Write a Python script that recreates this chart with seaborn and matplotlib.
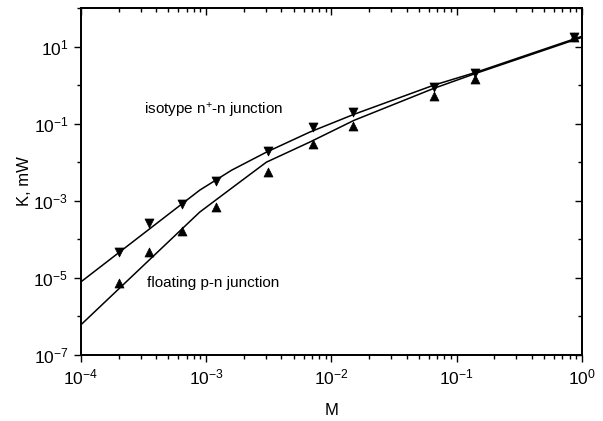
import numpy as np
import pandas as pd
import matplotlib
matplotlib.use("Agg")
import matplotlib.pyplot as plt
import seaborn as sns
from matplotlib.ticker import FixedLocator, LogLocator, NullFormatter

# measured points (down triangles: isotype n+-n, up triangles: floating p-n)
m_points = [2.0e-4, 3.5e-4, 6.4e-4, 1.2e-3, 3.1e-3, 7.2e-3, 1.5e-2, 6.6e-2, 1.4e-1, 0.87]
k_isotype = [4.7e-5, 2.6e-4, 8.1e-4, 3.2e-3, 2.0e-2, 8.1e-2, 0.20, 0.88, 2.0, 18.0]
k_floating = [7.4e-6, 4.7e-5, 1.6e-4, 6.8e-4, 5.5e-3, 2.95e-2, 8.5e-2, 0.51, 1.4, 18.0]

# calculated curves
m_curve = [1e-4, 8.9e-4, 1.6e-3, 3.03e-3, 6.7e-3, 1.52e-2, 6.6e-2, 0.143, 1.0]
k_curve_isotype = [7.8e-6, 1.88e-3, 6.2e-3, 1.82e-2, 6.0e-2, 0.175, 1.0, 2.15, 18.4]
k_curve_floating = [6.0e-7, 5.07e-4, 2.12e-3, 1.0e-2, 3.3e-2, 0.122, 0.826, 2.02, 17.3]

x_major = [1e-4, 1e-3, 1e-2, 1e-1, 1e0]
y_major = [1e-7, 1e-5, 1e-3, 1e-1, 1e1]
y_minor = [1e-6, 1e-4, 1e-2, 1e0, 1e2]

sns.set_style("ticks", {"axes.edgecolor": "black", "text.color": "black",
                        "axes.labelcolor": "black", "xtick.color": "black",
                        "ytick.color": "black"})
plt.rcParams["font.family"] = ["Liberation Sans", "DejaVu Sans"]
plt.rcParams["mathtext.fontset"] = "custom"
plt.rcParams["mathtext.rm"] = "Liberation Sans"
plt.rcParams["mathtext.it"] = "Liberation Sans:italic"
plt.rcParams["mathtext.default"] = "regular"

pts = pd.DataFrame({"M": m_points, "iso": k_isotype, "flo": k_floating})
curves = pd.DataFrame({"M": m_curve, "iso": k_curve_isotype, "flo": k_curve_floating})

fig = plt.figure(figsize=(6.03, 4.21), dpi=100)
ax = fig.add_axes([0.134, 0.157, 0.831, 0.824])

sns.lineplot(data=curves, x="M", y="iso", ax=ax, color="black", lw=1.1, sort=False)
sns.lineplot(data=curves, x="M", y="flo", ax=ax, color="black", lw=1.1, sort=False)
sns.scatterplot(data=pts, x="M", y="iso", ax=ax, marker="v", s=42, color="black",
                edgecolor="black", linewidth=0.5, zorder=3)
sns.scatterplot(data=pts, x="M", y="flo", ax=ax, marker="^", s=42, color="black",
                edgecolor="black", linewidth=0.5, zorder=3)

ax.set_xscale("log")
ax.set_yscale("log")
ax.set_xlim(1e-4, 1)
ax.set_ylim(1e-7, 1e2)

ax.xaxis.set_major_locator(FixedLocator(x_major))
ax.xaxis.set_minor_locator(LogLocator(base=10, subs=np.arange(2, 10)))
ax.xaxis.set_minor_formatter(NullFormatter())
ax.yaxis.set_major_locator(FixedLocator(y_major))
ax.yaxis.set_minor_locator(FixedLocator(y_minor))
ax.yaxis.set_minor_formatter(NullFormatter())
ax.set_xticklabels([r"$10^{-4}$", r"$10^{-3}$", r"$10^{-2}$", r"$10^{-1}$", r"$10^{0}$"])
ax.set_yticklabels([r"$10^{-7}$", r"$10^{-5}$", r"$10^{-3}$", r"$10^{-1}$", r"$10^{1}$"])

ax.tick_params(which="major", direction="out", length=5, width=1, labelsize=12.5, pad=4)
ax.tick_params(which="minor", direction="out", length=3, width=1)
for s in ax.spines.values():
    s.set_linewidth(1.1)

ax.set_xlabel("M", fontsize=12, labelpad=11)
ax.set_ylabel("K, mW", fontsize=12, labelpad=1)

# mirrored ticks pointing inward on top and right
top = ax.twiny()
top.set_xscale("log")
top.set_xlim(ax.get_xlim())
top.xaxis.set_major_locator(FixedLocator(x_major))
top.xaxis.set_minor_locator(LogLocator(base=10, subs=np.arange(2, 10)))
top.tick_params(which="major", direction="in", length=5, width=1, labeltop=False)
top.tick_params(which="minor", direction="in", length=3, width=1)
top.xaxis.set_major_formatter(NullFormatter())
top.xaxis.set_minor_formatter(NullFormatter())

right = ax.twinx()
right.set_yscale("log")
right.set_ylim(ax.get_ylim())
right.yaxis.set_major_locator(FixedLocator(y_major))
right.yaxis.set_minor_locator(FixedLocator(y_minor))
right.tick_params(which="major", direction="in", length=5, width=1, labelright=False)
right.tick_params(which="minor", direction="in", length=3, width=1)
right.yaxis.set_major_formatter(NullFormatter())
right.yaxis.set_minor_formatter(NullFormatter())
for a in (top, right):
    for s in a.spines.values():
        s.set_linewidth(1.1)

ax.text(3.18e-4, 0.22, "isotype n$^{+}$-n junction", fontsize=11, ha="left", va="center")
ax.text(3.36e-4, 7.4e-6, "floating p-n junction", fontsize=11, ha="left", va="center")

fig.savefig("out.png", dpi=100)
